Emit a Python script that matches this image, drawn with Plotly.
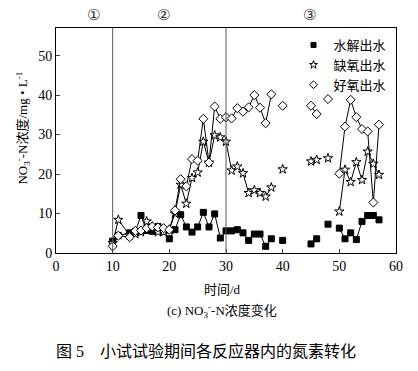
import plotly.graph_objects as go

# ---- data ----
days = [10, 11, 13, 14, 15, 16, 17, 18, 19, 20, 21, 22, 23, 24, 25, 26, 27, 28, 29, 30,
        31, 32, 33, 34, 35, 36, 37, 38, 39, 40, 41, 45, 46, 47, 48, 49,
        50, 51, 52, 53, 54, 55, 56, 57]
hydrolysis = [3.0, 4.4, 5.1, 5.5, 9.5, 5.7, 5.5, 6.7, 5.5, 3.6, 5.9, 9.7, 6.6, 5.3, 6.6, 10.3, 6.6, 9.9, 3.8, 5.6,
              5.6, 5.9, 5.1, 3.2, 4.8, 4.8, 1.7, 3.6, None, 3.2, None, 2.3, 3.6, None, 7.3, None,
              6.3, 3.6, 5.1, 3.4, 8.0, 9.5, 9.5, 8.4]
anoxic = [2.5, 8.4, 4.5, 4.8, 5.3, 8.0, 6.7, 5.3, 5.3, 5.9, 10.0, 17.3, 12.5, 19.0, 20.4, 28.2, 22.9, 29.8, 29.3, 28.2,
          20.9, 21.9, 20.2, 15.2, 15.9, 15.2, 14.3, 16.6, None, 21.2, None, 23.2, 23.6, None, 24.0, None,
          10.5, 21.1, 18.0, 23.0, 18.5, 25.7, 22.6, 19.8]
aerobic = [1.7, 4.4, 4.0, 5.6, 5.7, 6.3, 6.7, 6.5, 6.3, 5.9, 10.8, 18.7, 16.9, 23.8, 23.4, 34.0, 22.9, 37.1, 34.0, 34.4,
           34.1, 36.7, 35.8, 36.9, 40.0, 36.8, 32.9, 40.2, None, 37.3, None, 37.3, 35.2, None, 39.0, None,
           20.1, 32.0, 38.8, 34.4, 31.4, 30.8, 12.8, 32.5]
series_names = ["水解出水", "缺氧出水", "好氧出水"]
stage_bounds = [10, 30]
stage_labels = ["①", "②", "③"]
stage_label_x = [6.6, 19.0, 44.7]
x_ticks = [0, 10, 20, 30, 40, 50, 60]
y_ticks = [0, 10, 20, 30, 40, 50]

W, H = 418, 371
L, R, T, B = 55.5, 396.5, 28, 253

SERIF = "Times New Roman, Liberation Serif, Noto Sans CJK SC, serif"


def py(p):
    return (B - p) / (B - T)


def px(p):
    return (p - L) / (R - L)


fig = go.Figure()

styles = [
    dict(symbol="square", size=6, color="black", line=dict(color="black", width=1)),
    dict(symbol="star", size=7, color="white", line=dict(color="black", width=1)),
    dict(symbol="diamond", size=7, color="white", line=dict(color="black", width=1)),
]

for name, vals, st in zip(series_names, [hydrolysis, anoxic, aerobic], styles):
    fig.add_trace(go.Scatter(
        x=days, y=vals, mode="lines+markers", name=name, showlegend=False,
        line=dict(color="black", width=1), marker=st, connectgaps=False,
    ))

for name, st in zip(series_names, styles):
    lst = dict(st)
    lst["size"] = st["size"] - 1
    fig.add_trace(go.Scatter(x=[None], y=[None], mode="markers", name=name,
                             marker=lst, showlegend=True))

for xb in stage_bounds:
    fig.add_shape(type="line", x0=xb, x1=xb, y0=0, y1=1, xref="x", yref="paper",
                  line=dict(color="#555555", width=1))

for lab, lx in zip(stage_labels, stage_label_x):
    fig.add_annotation(x=lx, y=py(15.5), xref="x", yref="paper", text=lab, showarrow=False,
                       font=dict(size=15, family="DejaVu Sans, Noto Sans CJK SC", color="#333"),
                       xanchor="center", yanchor="middle")

fig.add_annotation(x=px(222), y=py(289), xref="paper", yref="paper", text="时间/d",
                   showarrow=False, font=dict(size=13, family=SERIF, color="black"),
                   xanchor="center", yanchor="middle")
fig.add_annotation(x=px(222), y=py(311), xref="paper", yref="paper",
                   text="(c) NO<sub>3</sub><sup>-</sup>-N浓度变化",
                   showarrow=False, font=dict(size=13, family=SERIF, color="black"),
                   xanchor="center", yanchor="middle")
fig.add_annotation(x=px(206), y=py(351), xref="paper", yref="paper",
                   text="图 5    小试试验期间各反应器内的氮素转化",
                   showarrow=False, font=dict(size=16, family=SERIF, color="black"),
                   xanchor="center", yanchor="middle")
fig.add_annotation(x=px(22), y=py(128), xref="paper", yref="paper",
                   text="NO<sub>3</sub><sup>-</sup>-N浓度/mg • L<sup>-1</sup>",
                   textangle=-90, showarrow=False,
                   font=dict(size=13, family=SERIF, color="black"),
                   xanchor="center", yanchor="middle")

fig.update_xaxes(range=[0, 60], tickvals=x_ticks, ticks="inside", ticklen=4,
                 showline=True, linecolor="black", linewidth=1, mirror=True,
                 showgrid=False, zeroline=False,
                 tickfont=dict(size=14, family=SERIF, color="black"))
fig.update_yaxes(range=[0, 57], tickvals=y_ticks, ticks="inside", ticklen=4,
                 showline=True, linecolor="black", linewidth=1, mirror=True,
                 showgrid=False, zeroline=False,
                 tickfont=dict(size=14, family=SERIF, color="black"))

fig.update_layout(
    width=W, height=H,
    margin=dict(l=L, r=W - R, t=T, b=H - B),
    paper_bgcolor="white", plot_bgcolor="white",
    legend=dict(x=px(392), y=py(30), xanchor="right", yanchor="top",
                font=dict(size=13, family=SERIF, color="black"),
                bgcolor="rgba(0,0,0,0)", tracegroupgap=0, itemwidth=30),
    showlegend=True,
)

fig.write_html("out.html", config={"displayModeBar": False},
               post_script="document.body.style.margin='0';")
